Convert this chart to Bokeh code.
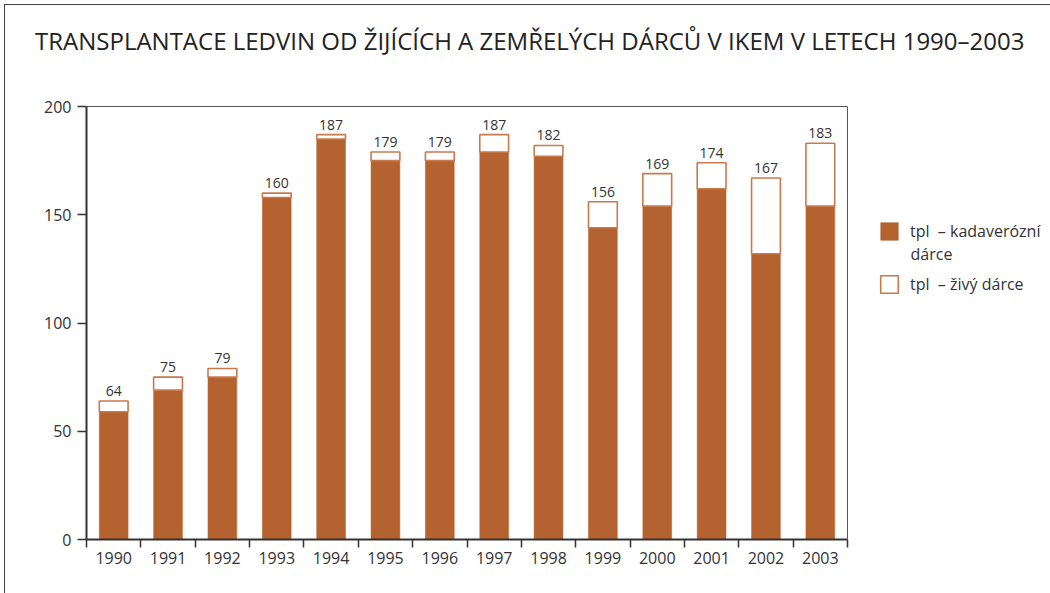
from bokeh.plotting import figure
from bokeh.layouts import column
from bokeh.models import (Range1d, FixedTicker, Legend, LegendItem, ColumnDataSource,
                          LinearAxis, Span, Label, Div)
from bokeh.core.properties import value
from bokeh.embed import file_html
from bokeh.resources import INLINE

years = [1990, 1991, 1992, 1993, 1994, 1995, 1996, 1997, 1998, 1999, 2000, 2001, 2002, 2003]
cadaveric = [59, 69, 75, 158, 185, 175, 175, 179, 177, 144, 154, 162, 132, 154]
living = [5, 6, 4, 2, 2, 4, 4, 8, 5, 12, 15, 12, 35, 29]
totals = [c + l for c, l in zip(cadaveric, living)]

title_text = "TRANSPLANTACE LEDVIN OD ŽIJÍCÍCH A ZEMŘELÝCH DÁRCŮ V IKEM V LETECH 1990–2003"
legend_cad = "tpl  – kadaverózní"
legend_cad2 = "dárce"
legend_live = "tpl  – živý dárce"

FONT = "Open Sans"
TXT = "#333333"
BROWN = "#B4622F"
EDGE = "#C97A4C"
FRAME = "#555555"

src = ColumnDataSource(dict(year=years, cad=cadaveric, tot=totals,
                            lab=[str(t) for t in totals]))

# layout numbers (pixels)
W, H = 1040, 528
BL, BR, BT, BB = 81, 0, 31, 64
frame_w = W - BL - BR
chart_w = 761          # width of the bar area, the rest holds the legend
x0, x1 = years[0] - 0.5, years[-1] + 0.5

title_div = Div(
    text=('<div style="padding:14px 0 0 25px; font-family:\'Open Sans\'; font-size:24px; '
          'color:#222222; white-space:nowrap; line-height:normal;">' + title_text + '</div>'),
    width=W, height=60)

p = figure(width=W, height=H, output_backend="svg", toolbar_location=None,
           x_range=Range1d(x0, x0 + (x1 - x0) * frame_w / chart_w), y_range=Range1d(0, 200),
           min_border_left=BL, min_border_right=BR, min_border_top=BT, min_border_bottom=BB)
p.background_fill_color = "white"
p.border_fill_color = "white"
p.outline_line_color = None
p.xgrid.visible = False
p.ygrid.visible = False

r_cad = p.vbar(x="year", top="cad", bottom=0, width=0.53, source=src,
               fill_color=BROWN, line_color=BROWN, line_width=0.5)
r_live = p.vbar(x="year", top="tot", bottom="cad", width=0.53, source=src,
                fill_color="white", line_color=EDGE, line_width=1.6)
p.text(x="year", y="tot", text="lab", source=src, text_align="center",
       text_baseline="bottom", y_offset=-5, text_font=value(FONT),
       text_font_size="14px", text_color=TXT)

# right edge of the chart area
p.add_layout(Span(location=x1, dimension="height", line_color=FRAME, line_width=1))

# axes
xa = p.xaxis[0]
xa.bounds = (x0, x1)
xa.ticker = FixedTicker(ticks=years, minor_ticks=[y - 0.5 for y in years] + [x1])
xa.major_tick_out = 0
xa.major_tick_in = 0
xa.minor_tick_out = 8
xa.minor_tick_in = 0
xa.minor_tick_line_width = 1.5
xa.minor_tick_line_color = TXT
xa.axis_line_width = 2
xa.axis_line_color = TXT
xa.major_label_text_font = FONT
xa.major_label_text_font_size = "16px"
xa.major_label_text_color = TXT
xa.major_label_standoff = 4

top_axis = LinearAxis(bounds=(x0, x1), ticker=FixedTicker(ticks=[]),
                      major_tick_out=0, major_tick_in=0, minor_tick_out=0, minor_tick_in=0,
                      major_label_text_font_size="0px", major_label_standoff=0,
                      axis_line_color=FRAME, axis_line_width=1)
p.add_layout(top_axis, "above")

ya = p.yaxis[0]
ya.ticker = FixedTicker(ticks=[0, 50, 100, 150, 200])
ya.major_tick_out = 9
ya.major_tick_in = 0
ya.minor_tick_out = 0
ya.minor_tick_in = 0
ya.major_tick_line_width = 1.5
ya.major_tick_line_color = TXT
ya.axis_line_width = 2
ya.axis_line_color = TXT
ya.major_label_text_font = FONT
ya.major_label_text_font_size = "16px"
ya.major_label_text_color = TXT
ya.major_label_standoff = 6

# legend (inside the frame, to the right of the bars)
legend = Legend(items=[LegendItem(label=legend_cad, renderers=[r_cad]),
                       LegendItem(label=legend_live, renderers=[r_live])],
                location=(792, 244), glyph_width=22, glyph_height=22, spacing=31,
                padding=0, margin=0, border_line_alpha=0, background_fill_alpha=0,
                label_standoff=10, label_text_font=FONT, label_text_font_size="16px",
                label_text_color=TXT, label_height=22)
p.add_layout(legend)
p.add_layout(Label(x=824, y=286, x_units="screen", y_units="screen", text=legend_cad2,
                   text_font=FONT, text_font_size="16px", text_color=TXT,
                   text_baseline="middle", text_align="left"))

layout = column(title_div, p,
                styles={"border": "1px solid #444", "border-bottom": "none",
                        "margin-left": "4px", "margin-top": "4px"})

open("out.html", "w").write(file_html(layout, INLINE))
